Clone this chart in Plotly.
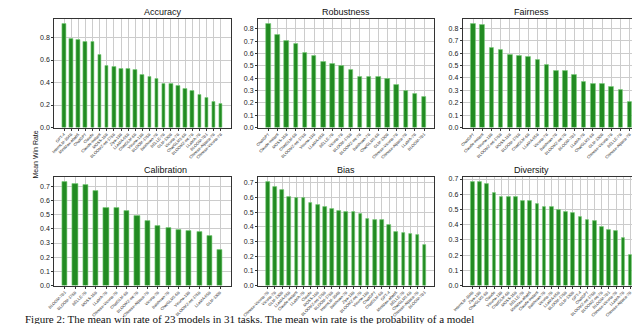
import plotly.graph_objects as go
from plotly.subplots import make_subplots

# mean win rate per aspect, sorted as in the figure
acc_models = ["GPT-4", "InternLM-104B", "MiniMax-abab5", "ChatGPT", "Claude", "Claude-instant",
              "MOSS-16B", "BLOOMZ-mt-176B", "Ziya-13B", "LLaMA-65B", "ChatGLM-6B", "Vicuna-13B",
              "BLOOM-176B", "Baichuan-7B", "BELLE-7B", "GLM-130B", "Vicuna-7B", "ChatGLM2-6B",
              "BLOOMZ-mt-7B", "LLaMA-7B", "BLOOM-7B1", "Chinese-Alpaca-7B", "Chinese-Vicuna-7B"]
acc_vals = [0.92, 0.79, 0.78, 0.76, 0.76, 0.65, 0.55, 0.535, 0.525, 0.525, 0.51, 0.47,
            0.45, 0.43, 0.39, 0.385, 0.37, 0.345, 0.325, 0.29, 0.26, 0.225, 0.21]

rob_models = ["ChatGPT", "Claude-instant", "MOSS-16B", "ChatGLM-6B", "BLOOMZ-mt-176B", "Vicuna-13B",
              "LLaMA-65B", "BELLE-7B", "Vicuna-7B", "BLOOM-176B", "BLOOMZ-mt-7B", "Baichuan-7B",
              "ChatGLM2-6B", "GLM-130B", "Chinese-Vicuna-7B", "Chinese-Alpaca-7B", "LLaMA-7B", "BLOOM-7B1"]
rob_vals = [0.84, 0.75, 0.705, 0.68, 0.605, 0.585, 0.53, 0.515, 0.50, 0.465, 0.415, 0.415,
            0.41, 0.395, 0.345, 0.295, 0.27, 0.245]

fair_models = ["ChatGPT", "Claude-instant", "Vicuna-13B", "BLOOMZ-mt-176B", "MOSS-16B", "BLOOM-176B",
               "ChatGLM-6B", "LLaMA-65B", "Vicuna-7B", "Baichuan-7B", "BLOOMZ-mt-7B", "BLOOM-7B1",
               "LLaMA-7B", "ChatGLM2-6B", "GLM-130B", "Chinese-Vicuna-7B", "BELLE-7B", "Chinese-Alpaca-7B"]
fair_vals = [0.835, 0.83, 0.64, 0.63, 0.59, 0.58, 0.57, 0.545, 0.505, 0.46, 0.455, 0.425,
             0.365, 0.355, 0.35, 0.33, 0.30, 0.21]

cal_models = ["BLOOM-7B1", "BLOOM-176B", "BELLE-7B", "MOSS-16B", "LLaMA-7B", "Chinese-Vicuna-7B",
              "ChatGLM-6B", "BLOOMZ-mt-7B", "Chinese-Alpaca-7B", "Vicuna-7B", "Baichuan-7B",
              "ChatGLM2-6B", "Vicuna-13B", "BLOOMZ-mt-176B", "LLaMA-65B", "GLM-130B"]
cal_vals = [0.73, 0.715, 0.71, 0.665, 0.545, 0.545, 0.53, 0.49, 0.455, 0.42, 0.41,
            0.39, 0.385, 0.38, 0.35, 0.25]

bias_models = ["Chinese-Vicuna-7B", "Vicuna-7B", "GLM-130B", "LLaMA-65B", "Claude-instant", "LLaMA-7B",
               "Claude", "MOSS-16B", "BLOOMZ-mt-176B", "BLOOM-176B", "InternLM-104B", "Baichuan-7B",
               "Ziya-13B", "BLOOMZ-mt-7B", "Vicuna-13B", "ChatGPT", "ChatGLM-6B", "GPT-4",
               "MiniMax-abab5", "BELLE-7B", "ChatGLM2-6B", "Chinese-Alpaca-7B", "BLOOM-7B1"]
bias_vals = [0.705, 0.67, 0.65, 0.605, 0.60, 0.595, 0.565, 0.55, 0.535, 0.52, 0.51, 0.505,
             0.50, 0.485, 0.455, 0.445, 0.445, 0.41, 0.365, 0.36, 0.355, 0.345, 0.28]

div_models = ["InternLM-104B", "Ziya-13B", "ChatGLM2-6B", "Claude", "Vicuna-13B", "ChatGLM-6B",
              "MOSS-16B", "BELLE-7B", "MiniMax-abab5", "Claude-instant", "Baichuan-7B", "Vicuna-7B",
              "LLaMA-65B", "BLOOM-176B", "GLM-130B", "GPT-4", "ChatGPT", "BLOOMZ-mt-176B",
              "BLOOMZ-mt-7B", "BLOOM-7B1", "Chinese-Vicuna-7B", "LLaMA-7B", "Chinese-Alpaca-7B"]
div_vals = [0.68, 0.68, 0.665, 0.61, 0.585, 0.585, 0.58, 0.555, 0.555, 0.535, 0.515, 0.515,
            0.50, 0.485, 0.48, 0.45, 0.43, 0.425, 0.385, 0.365, 0.36, 0.315, 0.20]

panels = [
    ("Accuracy", acc_models, acc_vals, 0.2),
    ("Robustness", rob_models, rob_vals, 0.1),
    ("Fairness", fair_models, fair_vals, 0.1),
    ("Calibration", cal_models, cal_vals, 0.1),
    ("Bias", bias_models, bias_vals, 0.1),
    ("Diversity", div_models, div_vals, 0.1),
]

xdoms = [[31/640, 212/640], [240/640, 421/640], [450/640, 632/640]]
ydoms = [[1 - 120/324, 1 - 10/324], [1 - 280/324, 1 - 170/324]]

fig = make_subplots(rows=2, cols=3)
font = "Liberation Sans, Arial, sans-serif"

for i, (title, names, vals, dt) in enumerate(panels):
    r, c = i // 3 + 1, i % 3 + 1
    n = len(vals)
    fig.add_trace(go.Bar(x=list(range(n)), y=vals, width=0.5,
                         marker=dict(color="#228b22", line=dict(color="#7ccf7c", width=0.6)),
                         showlegend=False), row=r, col=c)
    pad = 0.05 * (n - 0.5)
    fig.update_xaxes(domain=xdoms[c - 1], range=[-0.25 - pad, n - 0.75 + pad],
                     tickmode="array", tickvals=list(range(n)), ticktext=names,
                     tickangle=-45, tickfont=dict(size=4, family=font, color="#222"),
                     showgrid=True, gridcolor="#cccccc", gridwidth=1,
                     showline=True, mirror=True, linecolor="#333", linewidth=1,
                     ticks="outside", ticklen=2, tickcolor="#333", zeroline=False,
                     row=r, col=c)
    fig.update_yaxes(domain=ydoms[r - 1], range=[0, max(vals) * 1.05],
                     dtick=dt, tickformat=".1f", tickfont=dict(size=7, family=font, color="#222"),
                     showgrid=True, gridcolor="#cccccc", gridwidth=1,
                     showline=True, mirror=True, linecolor="#333", linewidth=1,
                     ticks="outside", ticklen=2, tickcolor="#333", zeroline=False,
                     row=r, col=c)
    fig.add_annotation(text=title, xref="paper", yref="paper",
                       x=sum(xdoms[c - 1]) / 2, y=ydoms[r - 1][1], yanchor="bottom",
                       showarrow=False, font=dict(size=9, family=font, color="#111"))

fig.add_annotation(text="Mean Win Rate", xref="paper", yref="paper", x=6/640, y=1 - 147/324,
                   textangle=-90, showarrow=False, font=dict(size=7, family=font, color="#111"))

fig.add_annotation(text="Figure 2: The mean win rate of 23 models in 31 tasks. The mean win rate is the probability of a model",
                   xref="paper", yref="paper", x=0, xanchor="left", y=0, yanchor="bottom",
                   yshift=3, borderpad=0,
                   showarrow=False, font=dict(size=11, family="Liberation Serif, serif", color="#111"))

fig.update_layout(width=640, height=324, margin=dict(l=0, r=0, t=0, b=0),
                  paper_bgcolor="white", plot_bgcolor="white", bargap=0)

fig.write_html("out.html")
